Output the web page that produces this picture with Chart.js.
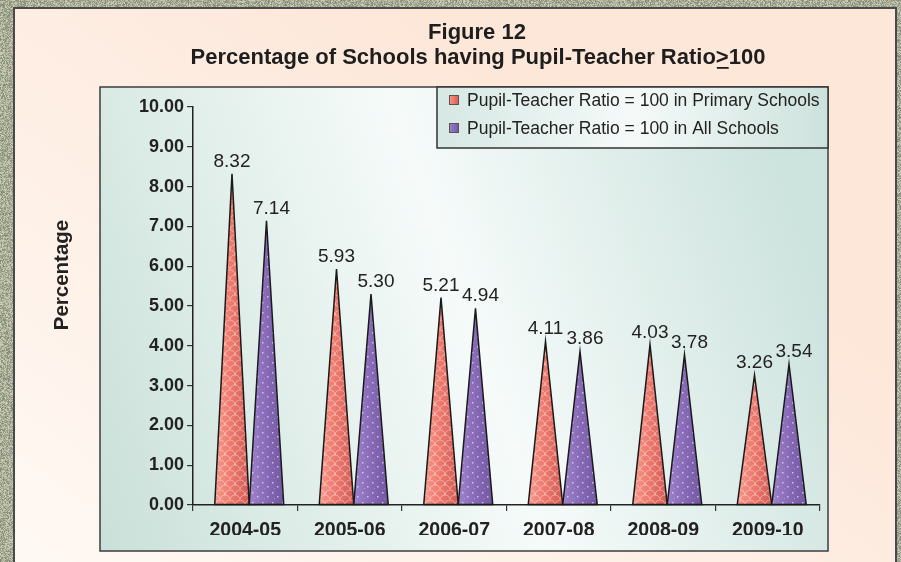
<!DOCTYPE html>
<html>
<head>
<meta charset="utf-8">
<script src="https://cdn.jsdelivr.net/npm/chart.js@4"></script>
<style>
  html, body { margin: 0; padding: 0; background: #a9ad96; }
  #wrap { width: 901px; height: 562px; }
</style>
</head>
<body>
<div id="wrap"><canvas id="chart" width="901" height="562"></canvas></div>
<script>
// data
const categories = ['2004-05', '2005-06', '2006-07', '2007-08', '2008-09', '2009-10'];
const primarySchools = [8.32, 5.93, 5.21, 4.11, 4.03, 3.26];
const allSchools = [7.14, 5.30, 4.94, 3.86, 3.78, 3.54];
const seriesLabels = [
  'Pupil-Teacher Ratio = 100 in Primary Schools',
  'Pupil-Teacher Ratio = 100 in All Schools'
];
const yMin = 0, yMax = 10, yStep = 1;
const titleLines = ['Figure 12', 'Percentage of Schools having Pupil-Teacher Ratio>100'];
const yTitle = 'Percentage';

const FONT = '"Liberation Sans", Arial, Helvetica, sans-serif';
const coneShades = [
  ['#f6998c', '#ee7a6e', '#d25b54'],
  ['#9e83ca', '#8a6cb9', '#7257a2']
];
const labelShift = [0, 5];
const coneShift = 4;

function hashNoise(x, y) {
  let h = Math.imul(x, 374761393) + Math.imul(y, 668265263) | 0;
  h = Math.imul(h ^ (h >>> 13), 1274126177);
  return ((h ^ (h >>> 16)) >>> 0) / 4294967295;
}

function makeTexture(ctx, w, h) {
  const img = ctx.createImageData(w, h);
  for (let y = 0; y < h; y++) {
    for (let x = 0; x < w; x++) {
      const n = (hashNoise(x, y) - 0.5) * 80;
      const i = (y * w + x) * 4;
      img.data[i] = 168 + n;
      img.data[i + 1] = 172 + n;
      img.data[i + 2] = 150 + n * 0.9;
      img.data[i + 3] = 255;
    }
  }
  return img;
}

function makePattern(kind) {
  const c = document.createElement('canvas');
  c.width = 10; c.height = 10;
  const g = c.getContext('2d');
  if (kind === 0) {
    g.strokeStyle = 'rgba(255,255,255,0.4)';
    g.lineWidth = 1;
    g.beginPath(); g.arc(5, 10, 5, Math.PI, 2 * Math.PI); g.stroke();
    g.beginPath(); g.arc(0, 5, 5, -Math.PI / 2, 0); g.stroke();
    g.beginPath(); g.arc(10, 5, 5, Math.PI, 1.5 * Math.PI); g.stroke();
  } else {
    g.fillStyle = 'rgba(255,255,255,0.6)';
    g.fillRect(2, 2, 1.5, 1.5);
    g.fillRect(7, 6, 1.5, 1.5);
    g.fillStyle = 'rgba(255,255,255,0.25)';
    g.fillRect(4, 8, 1, 1);
  }
  return c;
}

function coneFill(ctx, left, right, i) {
  const gr = ctx.createLinearGradient(left, 0, right, 0);
  gr.addColorStop(0, coneShades[i][0]);
  gr.addColorStop(0.45, coneShades[i][1]);
  gr.addColorStop(1, coneShades[i][2]);
  return gr;
}

const backdrop = {
  id: 'backdrop',
  beforeDraw(chart) {
    const ctx = chart.ctx;
    const W = chart.width, H = chart.height;
    ctx.save();
    ctx.putImageData(makeTexture(ctx, W, H), 0, 0);

    // peach panel
    const pg = ctx.createLinearGradient(400, 0, 0, 560);
    pg.addColorStop(0, '#fde7d9');
    pg.addColorStop(1, '#fff9f4');
    ctx.fillStyle = pg;
    ctx.fillRect(14, 8, 882, H);
    ctx.strokeStyle = '#4a4a4a';
    ctx.lineWidth = 2;
    ctx.strokeRect(14, 8, 882, H + 10);

    // plot box
    const bg = ctx.createLinearGradient(100, 551, 828, 300);
    bg.addColorStop(0, '#c9e0d8');
    bg.addColorStop(0.55, '#f6fbfa');
    bg.addColorStop(1, '#cde3dd');
    ctx.fillStyle = bg;
    ctx.fillRect(100, 87, 728, 464);
    ctx.strokeStyle = '#3d3d3d';
    ctx.lineWidth = 1.5;
    ctx.strokeRect(100, 87, 728, 464);

    // legend box
    const lg = ctx.createLinearGradient(437, 0, 828, 0);
    lg.addColorStop(0, '#d6e8e3');
    lg.addColorStop(0.5, '#f5faf9');
    lg.addColorStop(1, '#cde2dc');
    ctx.fillStyle = lg;
    ctx.fillRect(437, 87, 391, 61);
    ctx.strokeStyle = '#333';
    ctx.strokeRect(437, 87, 391, 61);
    ctx.restore();
  }
};

const cones = {
  id: 'cones',
  afterDatasetsDraw(chart) {
    const ctx = chart.ctx;
    chart.data.datasets.forEach((ds, i) => {
      const meta = chart.getDatasetMeta(i);
      const pat = ctx.createPattern(makePattern(i), 'repeat');
      meta.data.forEach((bar, j) => {
        const p = bar.getProps(['x', 'y', 'base', 'width'], true);
        const left = p.x - p.width / 2 + coneShift;
        const right = p.x + p.width / 2 + coneShift;
        const apex = p.x + coneShift;
        ctx.save();
        ctx.beginPath();
        ctx.moveTo(left, p.base);
        ctx.lineTo(apex, p.y);
        ctx.lineTo(right, p.base);
        ctx.closePath();
        ctx.fillStyle = coneFill(ctx, left, right, i);
        ctx.fill();
        ctx.fillStyle = pat;
        ctx.fill();
        ctx.strokeStyle = '#1a1a1a';
        ctx.lineWidth = 1.5;
        ctx.lineJoin = 'miter';
        ctx.stroke();

        // value label
        ctx.fillStyle = '#222';
        ctx.font = '19px ' + FONT;
        ctx.textAlign = 'center';
        ctx.textBaseline = 'alphabetic';
        ctx.fillText(ds.data[j].toFixed(2), apex + labelShift[i], p.y - 7);
        ctx.restore();
      });
    });
  }
};

const annotations = {
  id: 'annotations',
  afterDraw(chart) {
    const ctx = chart.ctx;
    ctx.save();
    // title
    ctx.fillStyle = '#1e1e1e';
    ctx.font = 'bold 22px ' + FONT;
    ctx.textAlign = 'center';
    ctx.textBaseline = 'middle';
    ctx.fillText(titleLines[0], 477, 33);
    ctx.fillText(titleLines[1], 478, 58);
    // underline under ">" to read as ≥
    const full = ctx.measureText(titleLines[1]).width;
    const k = titleLines[1].indexOf('>');
    const x0 = 478 - full / 2 + ctx.measureText(titleLines[1].slice(0, k)).width;
    const gw = ctx.measureText('>').width;
    ctx.fillRect(x0 + 1, 67, gw - 1, 1.8);

    // y axis title
    ctx.save();
    ctx.translate(62, 275);
    ctx.rotate(-Math.PI / 2);
    ctx.font = 'bold 20.5px ' + FONT;
    ctx.fillStyle = '#222';
    ctx.fillText(yTitle, 0, 0);
    ctx.restore();

    // legend
    ctx.font = '17.5px ' + FONT;
    ctx.textAlign = 'left';
    chart.data.datasets.forEach((ds, i) => {
      const cy = 100 + i * 28;
      ctx.fillStyle = coneFill(ctx, 449, 459, i);
      ctx.fillRect(449, cy - 5, 10, 10);
      ctx.strokeStyle = '#555';
      ctx.lineWidth = 1;
      ctx.strokeRect(449.5, cy - 4.5, 9, 9);
      ctx.fillStyle = '#222';
      ctx.fillText(ds.label, 467, cy + 1);
    });
    ctx.restore();
  }
};

new Chart(document.getElementById('chart'), {
  type: 'bar',
  data: {
    labels: categories,
    datasets: [
      { label: seriesLabels[0], data: primarySchools, backgroundColor: 'rgba(0,0,0,0)', borderWidth: 0 },
      { label: seriesLabels[1], data: allSchools, backgroundColor: 'rgba(0,0,0,0)', borderWidth: 0 }
    ]
  },
  options: {
    responsive: false,
    animation: false,
    devicePixelRatio: 1,
    categoryPercentage: 0.66,
    barPercentage: 1.0,
    layout: { padding: { left: 51, right: 81, top: 107, bottom: 27 } },
    plugins: {
      legend: { display: false },
      title: { display: false },
      tooltip: { enabled: false }
    },
    scales: {
      x: {
        grid: { display: true, drawOnChartArea: false, offset: true, tickLength: 6, color: '#333', lineWidth: 1.2 },
        border: { display: true, color: '#222', width: 1.5 },
        ticks: { color: '#222', font: { family: FONT, size: 19.5, weight: 'bold' }, padding: 8 },
        afterFit(scale) { scale.height = 30; }
      },
      y: {
        min: yMin,
        max: yMax,
        grid: { display: true, drawOnChartArea: false, tickLength: 6, color: '#333', lineWidth: 1.2 },
        border: { display: true, color: '#222', width: 1.5 },
        ticks: {
          stepSize: yStep,
          color: '#222',
          padding: 3,
          font: { family: FONT, size: 18, weight: 'bold' },
          callback: v => v.toFixed(2)
        },
        afterFit(scale) { scale.width = 193 - 51; }
      }
    }
  },
  plugins: [backdrop, cones, annotations]
});
</script>
</body>
</html>
